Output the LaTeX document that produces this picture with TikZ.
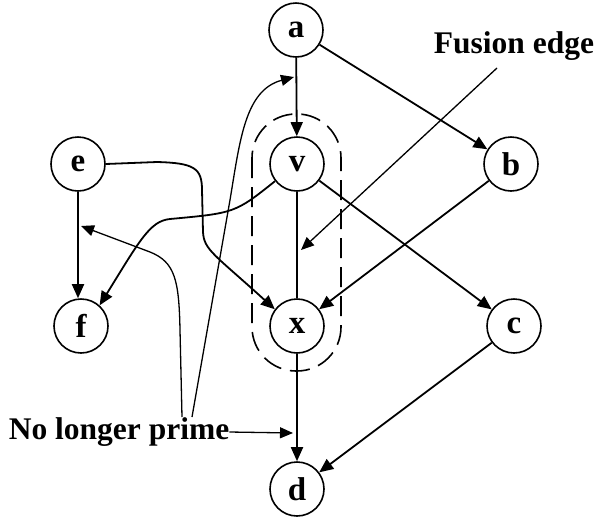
\documentclass[tikz,border=0pt]{standalone}
\usepackage{fontspec}
\setmainfont{Liberation Serif}
\usetikzlibrary{arrows.meta}
\tikzset{
  vert/.style={circle, draw, line width=1.6pt, minimum size=54pt, inner sep=0pt,
               font=\bfseries\fontsize{33}{33}\selectfont},
  lab/.style={inner sep=0pt, font=\bfseries\fontsize{31.5}{32}\selectfont},
  edge/.style={line width=1.8pt},
  arr/.style={edge, -{Triangle[length=14pt,width=12pt]}},
  thin arr/.style={line width=1.3pt, -{Triangle[length=13pt,width=11pt]}},
  group/.style={line width=1.6pt, dash pattern=on 20pt off 9pt, rounded corners=44pt}
}
\begin{document}
\begin{tikzpicture}[x=1pt,y=-1pt]
\useasboundingbox (0,0) rectangle (597,523);

% vertices
\node[vert] (a) at (296,30)  {a};
\node[vert] (v) at (297,164) {v};
\node[vert] (e) at (78,164)  {e};
\node[vert] (b) at (511,164) {b};
\node[vert] (f) at (81,326)  {f};
\node[vert] (x) at (297,326) {x};
\node[vert] (c) at (514,326) {c};
\node[vert] (d) at (297,489) {d};

% labels
\node[lab] (fus) at (514,46) {Fusion edge};
\node[lab] (nlp) at (119,432) {No longer prime};

% the fused pair v--x
\draw[group] (252,114) rectangle (341,371);

% graph edges
\draw[arr] (a) -- (v);
\draw[arr] (a) -- (b);
\draw[arr] (e) -- (e |- f.north);
\draw[arr] (v.218) .. controls (235,213) .. (170,219)
           .. controls (150,221) and (140,240) .. (f.48);
\draw[arr] (e.east) -- (157,162) .. controls (194,163) and (202,168) .. (202,190)
           -- (203,232) .. controls (204,250) and (214,254) .. (x.143);
\draw[arr] (v) -- (c);
\draw[arr] (b) -- (x);
\draw[edge] (v) -- (x);
\draw[arr] (x) -- (d);
\draw[arr] (c) -- (d);

% annotation pointers
\coordinate (fs) at (497,68);
\coordinate (fe) at (301,250);
\draw[thin arr] (fs) -- (fe);

\coordinate (n1) at (182,417);
\coordinate (n1e) at (81,226);
\coordinate (n2) at (192,417);
\coordinate (n2e) at (294,77);
\coordinate (n3e) at (293,433);
\draw[thin arr] (n1) -- (180,330) .. controls (179,280) and (175,262) .. (150,252) -- (n1e);
\draw[thin arr] (n2) -- (230,200) .. controls (240,140) and (245,90) .. (n2e);
\draw[thin arr] (nlp.east) -- (n3e);
\end{tikzpicture}
\end{document}
